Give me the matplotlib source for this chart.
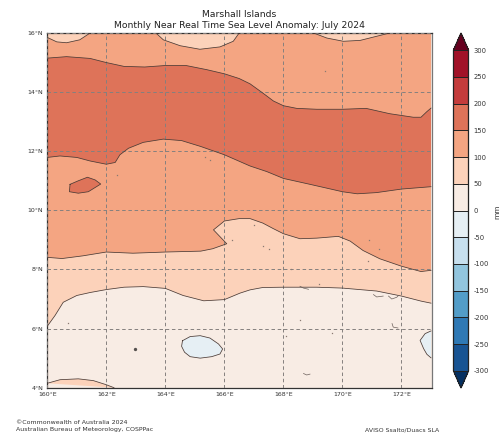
import matplotlib
matplotlib.use("Agg")
import matplotlib.pyplot as plt
from matplotlib.colors import ListedColormap, BoundaryNorm
from matplotlib.cm import ScalarMappable

# -----------------------------------
# Data
# -----------------------------------
levels = [-300, -250, -200, -150, -100, -50, 0, 50, 100, 150, 200, 250, 300]
band_colors = ["#185493", "#2F79B5", "#539DC8", "#92C5DE", "#C7DFEE", "#E6EFF4",
               "#F8ECE4", "#FCD2BA", "#F4A582", "#DE7359", "#C43C3C", "#A11228"]
under_color = "#053061"
over_color = "#67001F"

lon_ticks = [160, 162, 164, 166, 168, 170, 172]
lat_ticks = [4, 6, 8, 10, 12, 14, 16]

# 150 mm contour, north edge of the strong band
north150_lon = [160, 160.65, 161.45, 162, 162.6, 163.3, 164, 164.7, 165.4, 166, 166.5, 166.87,
                167.3, 167.66, 168, 168.45, 169.13, 170, 170.8, 171.6, 172.4, 172.66, 172.86, 173]
north150_lat = [15.15, 15.2, 15.14, 15.0, 14.87, 14.85, 14.9, 14.9, 14.76, 14.62, 14.46, 14.28,
                13.97, 13.7, 13.54, 13.45, 13.42, 13.42, 13.45, 13.27, 13.15, 13.15, 13.34, 13.46]

# 150 mm contour, south edge of the strong band
south150_lon = [160, 160.43, 161, 161.45, 162, 162.3, 162.46, 162.75, 163.25, 163.93, 164.55, 165.2,
                166, 166.87, 167.44, 168, 168.9, 170, 170.5, 171.15, 172, 173]
south150_lat = [11.79, 11.84, 11.79, 11.67, 11.56, 11.62, 11.88, 12.1, 12.3, 12.41, 12.36, 12.16,
                11.88, 11.5, 11.31, 11.08, 10.88, 10.63, 10.56, 10.6, 10.72, 10.8]

# 100 mm contour
c100_lon = [160, 160.5, 161.2, 162, 162.9, 164, 165.2, 165.6, 166.08, 165.63, 166, 166.5, 166.87,
            167.3, 167.66, 168, 168.56, 169.13, 169.86, 170.26, 170.7, 171.27, 172, 172.66, 173]
c100_lat = [8.41, 8.37, 8.46, 8.59, 8.55, 8.59, 8.62, 8.7, 8.87, 9.34, 9.64, 9.72, 9.72,
            9.57, 9.38, 9.21, 9.04, 9.06, 9.12, 8.96, 8.64, 8.36, 8.11, 7.93, 7.97]

# 50 mm contour
c50_lon = [160, 160.26, 160.54, 161, 161.45, 162, 162.6, 163.25, 164, 164.6, 165.3, 166, 166.53, 166.87,
           167.3, 168, 169.13, 170, 171.16, 172, 172.66, 173]
c50_lat = [6.08, 6.44, 6.89, 7.12, 7.22, 7.32, 7.4, 7.42, 7.36, 7.12, 6.94, 6.98, 7.2, 7.31,
           7.39, 7.4, 7.4, 7.37, 7.27, 7.1, 6.93, 6.86]

# 50 mm patches on the south and north edges
south_patch_lon = [160, 160.43, 161.05, 161.56, 162, 162.26]
south_patch_lat = [4.15, 4.27, 4.3, 4.24, 4.10, 4]
north_patch1_lon = [160, 160.32, 160.65, 161.1, 161.45]
north_patch1_lat = [15.85, 15.7, 15.67, 15.77, 16]
north_patch2_lon = [163.68, 163.93, 164.5, 165.17, 165.85, 166.3, 166.5]
north_patch2_lat = [16, 15.77, 15.57, 15.45, 15.53, 15.72, 16]
north_patch3_lon = [169.02, 169.47, 170.03, 170.6, 171.6]
north_patch3_lat = [16, 15.83, 15.72, 15.75, 16]

# 150 mm island west of the main band
island_lon = [160.77, 161.05, 161.36, 161.62, 161.81, 161.39, 161.05, 160.75, 160.77]
island_lat = [10.88, 11.0, 11.12, 11.03, 10.89, 10.63, 10.58, 10.63, 10.88]

# 0 mm blobs
blob_lon = [164.58, 164.84, 165.18, 165.51, 165.8, 165.94, 165.85, 165.57, 165.18, 164.84, 164.65, 164.55, 164.58]
blob_lat = [5.59, 5.73, 5.76, 5.68, 5.48, 5.31, 5.14, 5.05, 5.0, 5.05, 5.2, 5.4, 5.59]
east_blob_lon = [173, 172.8, 172.63, 172.75, 172.86, 173]
east_blob_lat = [5.92, 5.83, 5.6, 5.32, 5.13, 5.01]

# tiny contour fragments and specks
wiggle_lons = [[171.05, 171.16, 171.38], [171.56, 171.67, 171.84, 171.9], [168.68, 168.79, 168.9],
               [168.56, 168.68, 168.85], [171.68, 171.72, 171.88]]
wiggle_lats = [[7.15, 7.07, 7.1], [7.1, 7.0, 7.06, 7.12], [4.48, 4.43, 4.46],
               [7.43, 7.37, 7.33], [6.17, 6.05, 6.02]]
speck_lons = [162.97, 160.7, 169.65, 168.1, 167.5, 170.9, 171.23, 169.2, 168.25, 162.35, 165.35, 165.5,
              166.26, 169.95, 170.87, 168.57, 169.4, 167.3, 167.0]
speck_lats = [5.3, 6.2, 5.85, 5.75, 8.7, 9.0, 8.7, 7.5, 8.0, 11.2, 11.8, 11.7,
              9.0, 9.3, 8.3, 6.3, 14.7, 8.8, 9.5]

colorbar_ticks = [300, 250, 200, 150, 100, 50, 0, -50, -100, -150, -200, -250, -300]
colorbar_labels = ["300", "250", "200", "150", "100", "50", "0", "-50", "-100", "-150", "-200", "-250", "-300"]

# -----------------------------------
# Figure
# -----------------------------------
fig = plt.figure(figsize=(5.02, 4.34), dpi=100)
ax = fig.add_axes([47.3 / 502, 1 - 387.7 / 434, 384.3 / 502, 354.7 / 434])

cmap = ListedColormap(band_colors).with_extremes(under=under_color, over=over_color)
norm = BoundaryNorm(levels, len(band_colors))


def band(value):
    return cmap(norm(value))


line_kw = dict(color="#4A3A35", lw=0.55, zorder=3)

# painted from south to north, each layer covers what lies above its contour
ax.set_facecolor(band(25))
ax.fill(c50_lon + [173, 160], c50_lat + [16, 16], color=band(75), lw=0, zorder=1)
ax.fill(c100_lon + [173, 160], c100_lat + [16, 16], color=band(125), lw=0, zorder=1)
ax.fill(south150_lon + [173, 160], south150_lat + [16, 16], color=band(175), lw=0, zorder=1)
ax.fill(north150_lon + [173, 160], north150_lat + [16, 16], color=band(125), lw=0, zorder=1)

ax.fill(south_patch_lon, south_patch_lat, color=band(75), lw=0, zorder=2)
ax.fill(north_patch1_lon + [160], north_patch1_lat + [16], color=band(75), lw=0, zorder=2)
ax.fill(north_patch2_lon, north_patch2_lat, color=band(75), lw=0, zorder=2)
ax.fill(north_patch3_lon, north_patch3_lat, color=band(75), lw=0, zorder=2)
ax.fill(island_lon, island_lat, color=band(175), lw=0, zorder=2)
ax.fill(blob_lon, blob_lat, color=band(-25), lw=0, zorder=2)
ax.fill(east_blob_lon, east_blob_lat, color=band(-25), lw=0, zorder=2)

for xs, ys in [(north150_lon, north150_lat), (south150_lon, south150_lat), (c100_lon, c100_lat),
               (c50_lon, c50_lat), (south_patch_lon, south_patch_lat),
               (north_patch1_lon, north_patch1_lat), (north_patch2_lon, north_patch2_lat),
               (north_patch3_lon, north_patch3_lat), (island_lon, island_lat),
               (blob_lon, blob_lat), (east_blob_lon, east_blob_lat)]:
    ax.plot(xs, ys, **line_kw)

for xs, ys in zip(wiggle_lons, wiggle_lats):
    ax.plot(xs, ys, color="#6B5F5A", lw=0.5, zorder=3)
ax.plot(speck_lons, speck_lats, ls="none", marker="s", ms=0.9, mew=0, color="#8A7A72", zorder=3)
ax.plot([162.97], [5.3], ls="none", marker="o", ms=2.4, mew=0, color="#55504E", zorder=3)

ax.set_xlim(160, 173.02)
ax.set_ylim(4, 16)
ax.set_xticks(lon_ticks)
ax.set_yticks(lat_ticks)
ax.set_xticklabels([f"{v}°E" for v in lon_ticks])
ax.set_yticklabels([f"{v}°N" for v in lat_ticks])
ax.tick_params(labelsize=4.5, length=0, pad=3, labelcolor="#333333")
ax.grid(True, color="#85807E", ls=(0, (3.6, 2.8)), lw=0.7, zorder=4)
ax.set_axisbelow(False)

for name in ["left", "bottom", "top"]:
    ax.spines[name].set_linewidth(0.9)
    ax.spines[name].set_color("#333333")
ax.spines["right"].set_linewidth(0.9)
ax.spines["right"].set_color("#777777")

fig.text(239.5 / 502, 1 - 14.5 / 434, "Marshall Islands", ha="center", va="center", fontsize=6.7, color="#222222")
fig.text(239.5 / 502, 1 - 25 / 434, "Monthly Near Real Time Sea Level Anomaly: July 2024",
         ha="center", va="center", fontsize=6.7, color="#222222")

# -----------------------------------
# Colorbar
# -----------------------------------
# the colorbar axes spans both triangle tips
cax = fig.add_axes([453.5 / 502, 1 - 388 / 434, 15 / 502, 355 / 434])
sm = ScalarMappable(norm=norm, cmap=cmap)
cbar = fig.colorbar(sm, cax=cax, extend="both", extendfrac=0.053, ticks=colorbar_ticks,
                    spacing="uniform", drawedges=True)
cbar.ax.set_yticklabels(colorbar_labels)
cbar.ax.tick_params(labelsize=4.9, length=0, pad=3.5, labelcolor="#333333")
cbar.dividers.set_color("#222222")
cbar.dividers.set_linewidth(0.7)
cbar.outline.set_linewidth(0.9)
cbar.outline.set_edgecolor("#222222")
fig.text(497.5 / 502, 1 - 212 / 434, "mm", rotation=90, ha="center", va="center", fontsize=5.4, color="#333333")

# -----------------------------------
# Footer
# -----------------------------------
fig.text(16.5 / 502, 1 - 422.5 / 434, "©Commonwealth of Australia 2024", ha="left", va="center",
         fontsize=4.5, color="#333333")
fig.text(16.5 / 502, 1 - 430 / 434, "Australian Bureau of Meteorology, COSPPac", ha="left", va="center",
         fontsize=4.5, color="#333333")
fig.text(365 / 502, 1 - 430 / 434, "AVISO Ssalto/Duacs SLA", ha="left", va="center",
         fontsize=4.45, color="#333333")

fig.savefig("out.png", dpi=100)
